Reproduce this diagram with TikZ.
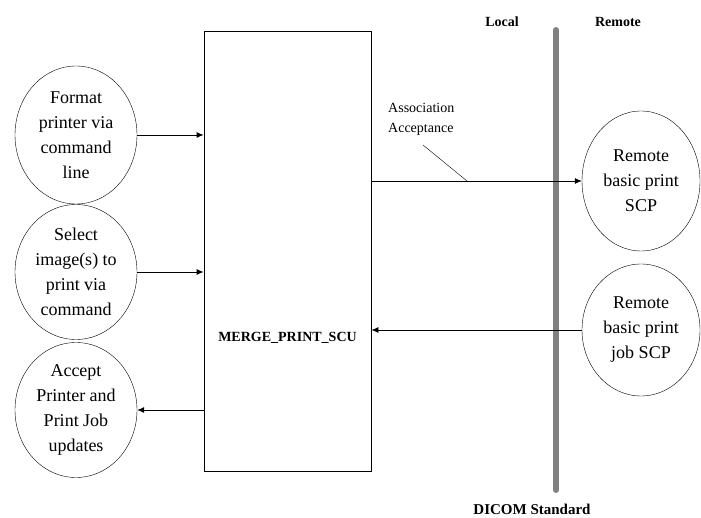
\documentclass[tikz,border=0pt]{standalone}
\usepackage{fontspec}
\setmainfont{Liberation Serif}
\usetikzlibrary{shapes.geometric,arrows.meta}

\begin{document}
\begin{tikzpicture}[x=1pt,y=-1pt,
    usecase/.style={draw,ellipse,inner sep=0pt,minimum width=122pt,minimum height=138pt,
        align=center,font=\fontsize{18}{25}\selectfont},
    tag/.style={font=\fontsize{14}{16}\selectfont\bfseries},
    arr/.style={-{Latex[length=7pt,width=6pt]},thick},
]
    \useasboundingbox (0,0) rectangle (701,518);
    % local side
    \node[usecase] (fmt) at (76,135) {Format\\printer via\\command\\line};
    \node[usecase,minimum height=135pt] (sel) at (76,272) {Select\\image(s) to\\print via\\command};
    \node[usecase,minimum height=135pt] (acc) at (76,410) {Accept\\Printer and\\Print Job\\updates};
    \node[draw,thick,minimum width=167pt,minimum height=440pt] (scu) at (287.5,251) {};
    \node[tag] (scuname) at (287.5,338) {MERGE\_PRINT\_SCU};
    % boundary
    \coordinate (bndtop) at (556,30);
    \coordinate (bndbot) at (556,490);
    \draw[line width=6pt,color=gray,line cap=round] (bndtop) -- (bndbot);
    \node[tag] (local) at (502,22) {Local};
    \node[tag] (remote) at (618,22) {Remote};
    \node[tag,font=\fontsize{15}{17}\selectfont\bfseries] (dicom) at (532,509) {DICOM Standard};
    % remote side
    \node[usecase,minimum width=118pt,minimum height=140pt] (rbp) at (641,181) {Remote\\basic print\\SCP};
    \node[usecase,minimum width=118pt,minimum height=132pt] (rjob) at (641,330) {Remote\\basic print\\job SCP};
    % messages
    \draw[arr] (fmt.east) -- (fmt.east -| scu.west);
    \draw[arr] (sel.east) -- (sel.east -| scu.west);
    \draw[arr] (acc.east -| scu.west) -- (acc.east);
    \draw[arr] (scu.east |- rbp.west) -- (rbp.west);
    \draw[arr] (rjob.west) -- (rjob.west -| scu.east);
    \node[anchor=north west,align=left,inner sep=0pt,font=\fontsize{14}{20}\selectfont] (assoc) at (388,103) {Association\\Acceptance};
    \coordinate (assocpt) at (467,181);
    \draw (423,145) -- (assocpt);
\end{tikzpicture}
\end{document}
